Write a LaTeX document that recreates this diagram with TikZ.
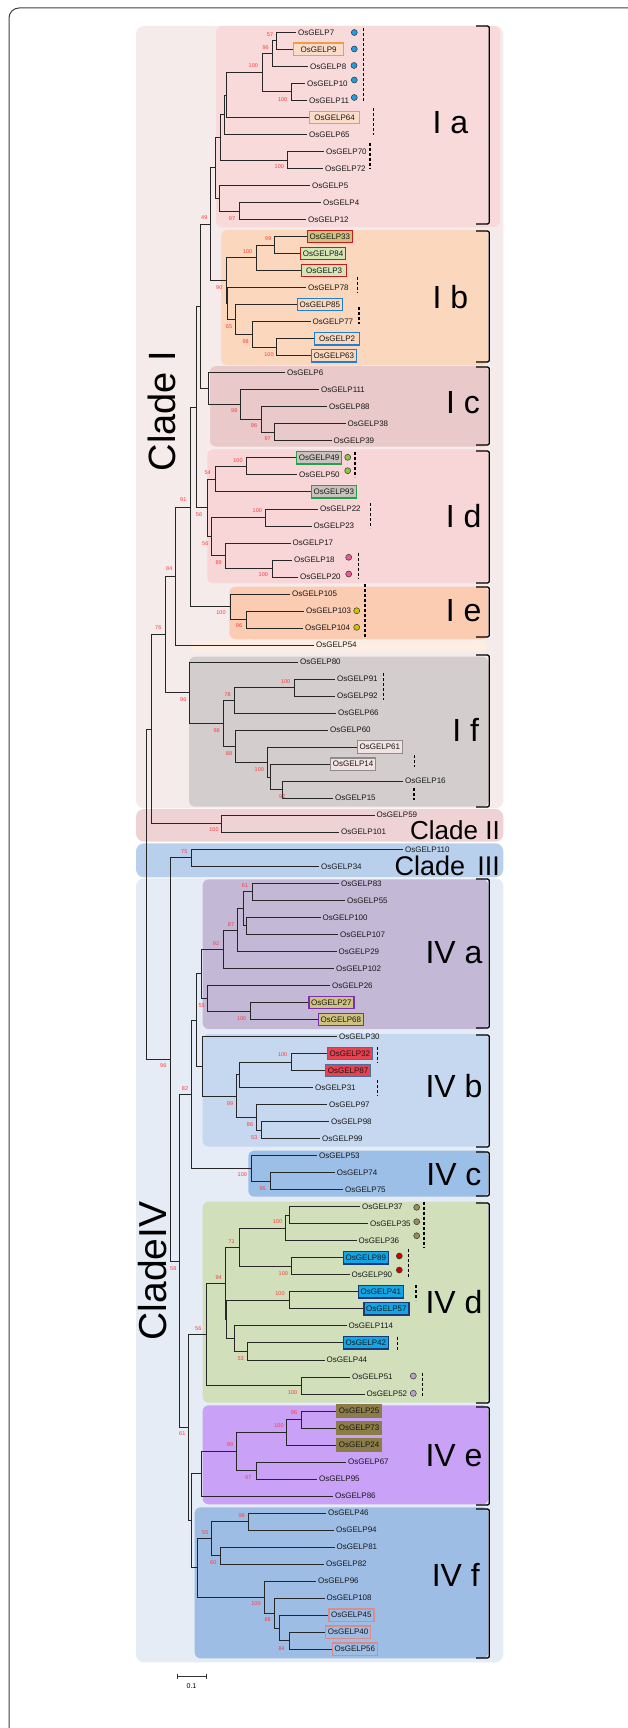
\documentclass[tikz,border=0pt]{standalone}
\usepackage{fontspec}
\setmainfont{Liberation Sans}
\definecolor{bgI}{HTML}{F6EBEB}
\definecolor{bgIa}{HTML}{F8DADB}
\definecolor{bgIb}{HTML}{FBD8BD}
\definecolor{bgIc}{HTML}{E9C9C9}
\definecolor{bgId}{HTML}{F8D5D7}
\definecolor{bgIe}{HTML}{FBCBB2}
\definecolor{bgS}{HTML}{FDEEE3}
\definecolor{bgIf}{HTML}{D3CDCD}
\definecolor{bgII}{HTML}{EFD2D3}
\definecolor{bgIII}{HTML}{B9D0EC}
\definecolor{bgIV}{HTML}{E5ECF5}
\definecolor{bgIVa}{HTML}{C3B9D7}
\definecolor{bgIVb}{HTML}{C5D8EF}
\definecolor{bgIVc}{HTML}{9CBFE7}
\definecolor{bgIVd}{HTML}{D1DFBB}
\definecolor{bgIVe}{HTML}{C9A1F7}
\definecolor{bgIVf}{HTML}{9DBDE5}
\definecolor{bootred}{HTML}{FF3B3B}
\definecolor{cOrange}{HTML}{F39A45}
\definecolor{cOrFill}{HTML}{FBDCC8}
\definecolor{cRed}{HTML}{C8191E}
\definecolor{cKhaki}{HTML}{CFC27E}
\definecolor{cLGreen}{HTML}{D5E6B5}
\definecolor{cBlue}{HTML}{1F7FD0}
\definecolor{cGreen}{HTML}{22A24A}
\definecolor{cGrayFill}{HTML}{C9C3BE}
\definecolor{cGrayBd}{HTML}{8C8C8C}
\definecolor{cPinkFill}{HTML}{F2E2E2}
\definecolor{cPurple}{HTML}{7A2FB0}
\definecolor{cRedFill}{HTML}{E8414F}
\definecolor{cSteel}{HTML}{4D6D9A}
\definecolor{cCyan}{HTML}{12A6E6}
\definecolor{cNavy}{HTML}{1C3A78}
\definecolor{cOlive}{HTML}{8C7D48}
\definecolor{cSalmon}{HTML}{D98C8C}
\definecolor{dBlue}{HTML}{1E9DE3}
\definecolor{dGreen}{HTML}{8DC63F}
\definecolor{dPink}{HTML}{EC5A96}
\definecolor{dYellow}{HTML}{C9C800}
\definecolor{dOlive}{HTML}{9C8B5A}
\definecolor{dRed}{HTML}{D10000}
\definecolor{dLav}{HTML}{B9A5CD}
\newcommand\kids[3]{\draw[branch] (#1) |- (#2) (#1) |- (#3);}
\tikzset{
 branch/.style={draw=black!85, line width=0.8pt},
 leaf/.style={anchor=west, inner xsep=2pt, inner ysep=1pt, font=\fontsize{8}{9}\selectfont, text=black!90},
 boxleaf/.style={leaf, line width=1.2pt, minimum height=12.5pt, minimum width=45pt},
 bor/.style={boxleaf, draw=cOrange, fill=cOrFill, minimum width=50pt},
 brk/.style={boxleaf, draw=cRed, fill=cKhaki},
 brg/.style={boxleaf, draw=cRed, fill=cLGreen},
 bbl/.style={boxleaf, draw=cBlue, fill=bgIb},
 bgr/.style={boxleaf, draw=cGreen, fill=cGrayFill},
 bgy/.style={boxleaf, draw=cGrayBd, fill=cPinkFill},
 bpu/.style={boxleaf, draw=cPurple, fill=cKhaki},
 brd/.style={boxleaf, draw=cSteel, fill=cRedFill},
 bcy/.style={boxleaf, draw=cNavy, fill=cCyan},
 bol/.style={boxleaf, draw=cOlive, fill=cOlive},
 bsa/.style={boxleaf, draw=cSalmon, fill=bgIVf},
 boot/.style={font=\fontsize{5.5}{6}\selectfont, text=bootred, inner sep=0pt},
 dot/.style={circle, draw=black!80, line width=0.5pt, minimum size=6pt, inner sep=0pt},
 dashln/.style={draw=black, line width=1.3pt, dash pattern=on 3pt off 2pt},
 cbrack/.style={draw=black, line width=1.3pt, rounded corners=2pt},
 clab/.style={font=\fontsize{32}{36}\selectfont, anchor=base east, inner sep=0pt},
 bgbox/.style={rounded corners=6pt, draw=none},
}
\begin{document}
\begin{tikzpicture}[x=1pt,y=-1pt]
\useasboundingbox (0,0) rectangle (627,1728);
% frame
\draw[black!75, line width=1pt, rounded corners=10pt] (9,1780) -- (9,8) -- (680,8);
% backgrounds
\fill[bgI, rounded corners=8pt] (136,26) rectangle (503.3,808.3);
\fill[bgII, rounded corners=8pt] (136,809) rectangle (503.3,841.7);
\fill[bgIII, rounded corners=8pt] (136,843.3) rectangle (503.3,877.3);
\fill[bgIV, rounded corners=8pt] (136,878.3) rectangle (503.3,1662.3);
\fill[bgIa, bgbox] (216,26) rectangle (500,227.3);
\fill[bgIb, bgbox] (221,230) rectangle (488.3,365);
\fill[bgIc, bgbox] (210,366) rectangle (488.3,446.7);
\fill[bgId, bgbox] (207.3,449.3) rectangle (488.3,583.3);
\fill[bgIe, bgbox] (229.3,586.7) rectangle (488.3,639);
\fill[bgS, rounded corners=3pt] (191,640.7) rectangle (486,651.7);
\fill[bgIf, bgbox] (189,656.7) rectangle (488.3,806.7);
\fill[bgIVa, bgbox] (202.7,879.3) rectangle (488.3,1029);
\fill[bgIVb, bgbox] (202.7,1034) rectangle (488.3,1146.7);
\fill[bgIVc, bgbox] (248.3,1150.7) rectangle (488.3,1196.7);
\fill[bgIVd, bgbox] (202.7,1201.7) rectangle (488.3,1402.7);
\fill[bgIVe, bgbox] (202.7,1405.3) rectangle (488.3,1504.3);
\fill[bgIVf, bgbox] (194.7,1507.3) rectangle (488.3,1658.3);
% brackets
\draw[cbrack] (476,26) -- (489.3,26) -- (489.3,224) -- (476,224);
\draw[cbrack] (476,231) -- (489.3,231) -- (489.3,362) -- (476,362);
\draw[cbrack] (476,367) -- (489.3,367) -- (489.3,445) -- (476,445);
\draw[cbrack] (476,451) -- (489.3,451) -- (489.3,583) -- (476,583);
\draw[cbrack] (476,587) -- (489.3,587) -- (489.3,637) -- (476,637);
\draw[cbrack] (476,655) -- (489.3,655) -- (489.3,807) -- (476,807);
\draw[cbrack] (476,879) -- (489.3,879) -- (489.3,1028) -- (476,1028);
\draw[cbrack] (476,1035) -- (489.3,1035) -- (489.3,1147) -- (476,1147);
\draw[cbrack] (476,1152) -- (489.3,1152) -- (489.3,1196) -- (476,1196);
\draw[cbrack] (476,1203) -- (489.3,1203) -- (489.3,1403) -- (476,1403);
\draw[cbrack] (476,1407) -- (489.3,1407) -- (489.3,1505) -- (476,1505);
\draw[cbrack] (476,1509) -- (489.3,1509) -- (489.3,1658) -- (476,1658);
% clade labels
\node[clab] (tIa) at (468.3,133.3) {I a};
\node[clab] (tIb) at (468.3,308.3) {I b};
\node[clab] (tIc) at (480,413.3) {I c};
\node[clab] (tId) at (481.7,527.3) {I d};
\node[clab] (tIe) at (481.7,621.7) {I e};
\node[clab] (tIf) at (479.3,741.7) {I f};
\node[clab] (tIVa) at (482.7,963.3) {IV a};
\node[clab] (tIVb) at (482.7,1097.7) {IV b};
\node[clab] (tIVc) at (481.7,1185) {IV c};
\node[clab] (tIVd) at (482.7,1313.3) {IV d};
\node[clab] (tIVe) at (482.7,1466.7) {IV e};
\node[clab] (tIVf) at (480,1586.7) {IV f};
\node[clab, font=\fontsize{26}{28}\selectfont] (tII) at (500,839) {Clade II};
\node[clab, font=\fontsize{27}{29}\selectfont] (tIII) at (500,875) {Clade\hspace{0.45em}III};
\node[font=\fontsize{38}{40}\selectfont, rotate=90, inner sep=0pt] (tI) at (162,411) {Clade I};
\node[font=\fontsize{39}{41}\selectfont, rotate=90, inner sep=0pt] (tIV) at (153,1271) {CladeIV};
% leaves
\node[leaf] (L7) at (296,32.3) {OsGELP7};
\node[bor] (L9) at (293,49.3) {OsGELP9};
\node[leaf] (L8) at (308,66.3) {OsGELP8};
\node[leaf] (L10) at (305,83.4) {OsGELP10};
\node[leaf] (L11) at (307,100.4) {OsGELP11};
\node[bor] (L64) at (309,117.4) {OsGELP64};
\node[leaf] (L65) at (307,134.4) {OsGELP65};
\node[leaf] (L70) at (324,151.4) {OsGELP70};
\node[leaf] (L72) at (323,168.5) {OsGELP72};
\node[leaf] (L5) at (310,185.5) {OsGELP5};
\node[leaf] (L4) at (321,202.5) {OsGELP4};
\node[leaf] (L12) at (306,219.5) {OsGELP12};
\node[brk] (L33) at (306.7,236.5) {OsGELP33};
\node[brg] (L84) at (300,253.6) {OsGELP84};
\node[brg] (L3) at (301,270.6) {OsGELP3};
\node[leaf] (L78) at (306,287.6) {OsGELP78};
\node[bbl] (L85) at (296.7,304.6) {OsGELP85};
\node[leaf] (L77) at (310.5,321.6) {OsGELP77};
\node[bbl] (L2) at (314,338.7) {OsGELP2};
\node[bbl] (L63) at (310.7,355.7) {OsGELP63};
\node[leaf] (L6) at (285,372.7) {OsGELP6};
\node[leaf] (L111) at (319,389.7) {OsGELP111};
\node[leaf] (L88) at (327,406.7) {OsGELP88};
\node[leaf] (L38) at (345.5,423.8) {OsGELP38};
\node[leaf] (L39) at (331.5,440.8) {OsGELP39};
\node[bgr] (L49) at (296,457.8) {OsGELP49};
\node[leaf] (L50) at (297,474.8) {OsGELP50};
\node[bgr] (L93) at (310.7,491.8) {OsGELP93};
\node[leaf] (L22) at (318,508.9) {OsGELP22};
\node[leaf] (L23) at (311.5,525.9) {OsGELP23};
\node[leaf] (L17) at (290.5,542.9) {OsGELP17};
\node[leaf] (L18) at (292,559.9) {OsGELP18};
\node[leaf] (L20) at (298,576.9) {OsGELP20};
\node[leaf] (L105) at (290,594) {OsGELP105};
\node[leaf] (L103) at (304,611) {OsGELP103};
\node[leaf] (L104) at (303,628) {OsGELP104};
\node[leaf] (L54) at (314,645) {OsGELP54};
\node[leaf] (L80) at (298,662) {OsGELP80};
\node[leaf] (L91) at (335,679.1) {OsGELP91};
\node[leaf] (L92) at (335,696.1) {OsGELP92};
\node[leaf] (L66) at (336,713.1) {OsGELP66};
\node[leaf] (L60) at (328,730.1) {OsGELP60};
\node[bgy] (L61) at (356.7,747.1) {OsGELP61};
\node[bgy] (L14) at (330,764.2) {OsGELP14};
\node[leaf] (L16) at (403,781.2) {OsGELP16};
\node[leaf] (L15) at (333,798.2) {OsGELP15};
\node[leaf] (L59) at (374.5,815.2) {OsGELP59};
\node[leaf] (L101) at (339,832.2) {OsGELP101};
\node[leaf] (L110) at (403,849.3) {OsGELP110};
\node[leaf] (L34) at (319,866.3) {OsGELP34};
\node[leaf] (L83) at (339,883.3) {OsGELP83};
\node[leaf] (L55) at (345,900.3) {OsGELP55};
\node[leaf] (L100) at (320.5,917.3) {OsGELP100};
\node[leaf] (L107) at (338,934.4) {OsGELP107};
\node[leaf] (L29) at (336.5,951.4) {OsGELP29};
\node[leaf] (L102) at (334,968.4) {OsGELP102};
\node[leaf] (L26) at (330,985.4) {OsGELP26};
\node[bpu] (L27) at (308.3,1002.4) {OsGELP27};
\node[bpu] (L68) at (317.7,1019.5) {OsGELP68};
\node[leaf] (L30) at (337,1036.5) {OsGELP30};
\node[brd] (L32) at (326.7,1053.5) {OsGELP32};
\node[brd] (L87) at (325,1070.5) {OsGELP87};
\node[leaf] (L31) at (313,1087.5) {OsGELP31};
\node[leaf] (L97) at (327,1104.6) {OsGELP97};
\node[leaf] (L98) at (329,1121.6) {OsGELP98};
\node[leaf] (L99) at (320,1138.6) {OsGELP99};
\node[leaf] (L53) at (317,1155.6) {OsGELP53};
\node[leaf] (L74) at (334.7,1172.6) {OsGELP74};
\node[leaf] (L75) at (343,1189.7) {OsGELP75};
\node[leaf] (L37) at (360,1206.7) {OsGELP37};
\node[leaf] (L35) at (368,1223.7) {OsGELP35};
\node[leaf] (L36) at (356.5,1240.7) {OsGELP36};
\node[bcy] (L89) at (342.7,1257.7) {OsGELP89};
\node[leaf] (L90) at (349.5,1274.8) {OsGELP90};
\node[bcy] (L41) at (357.7,1291.8) {OsGELP41};
\node[bcy] (L57) at (363.3,1308.8) {OsGELP57};
\node[leaf] (L114) at (346.5,1325.8) {OsGELP114};
\node[bcy] (L42) at (342.7,1342.8) {OsGELP42};
\node[leaf] (L44) at (324.5,1359.9) {OsGELP44};
\node[leaf] (L51) at (350,1376.9) {OsGELP51};
\node[leaf] (L52) at (364.5,1393.9) {OsGELP52};
\node[bol] (L25) at (336,1410.9) {OsGELP25};
\node[bol] (L73) at (336,1427.9) {OsGELP73};
\node[bol] (L24) at (336,1445) {OsGELP24};
\node[leaf] (L67) at (346,1462) {OsGELP67};
\node[leaf] (L95) at (317,1479) {OsGELP95};
\node[leaf] (L86) at (333,1496) {OsGELP86};
\node[leaf] (L46) at (326,1513) {OsGELP46};
\node[leaf] (L94) at (334,1530.1) {OsGELP94};
\node[leaf] (L81) at (334.5,1547.1) {OsGELP81};
\node[leaf] (L82) at (324,1564.1) {OsGELP82};
\node[leaf] (L96) at (316,1581.1) {OsGELP96};
\node[leaf] (L108) at (324.5,1598.1) {OsGELP108};
\node[bsa] (L45) at (328.3,1615.2) {OsGELP45};
\node[bsa] (L40) at (325,1632.2) {OsGELP40};
\node[bsa] (L56) at (331.7,1649.2) {OsGELP56};
% internal nodes
\coordinate (n79) at (276.7,40.8);
\coordinate (n798) at (272.7,53.55);
\coordinate (n1011) at (291.7,91.9);
\coordinate (nA) at (262.7,72.7);
\coordinate (nB) at (226.7,95.05);
\coordinate (nC) at (224,114.7);
\coordinate (n7072) at (287.7,160);
\coordinate (nD) at (220.7,137.3);
\coordinate (n412) at (239,211);
\coordinate (nE) at (219.3,198.3);
\coordinate (nIa) at (215,167.8);
\coordinate (n3384) at (274.3,245.05);
\coordinate (n33843) at (256,257.8);
\coordinate (n263) at (276.7,347.2);
\coordinate (n77) at (252.7,334.4);
\coordinate (n85) at (235,319.5);
\coordinate (n78) at (227.3,303.55);
\coordinate (nIb) at (226,280.7);
\coordinate (nIaIb) at (210.7,224.25);
\coordinate (n3839) at (274.3,432.3);
\coordinate (n88) at (261,419.5);
\coordinate (n111) at (240.7,404.6);
\coordinate (nIc) at (208.3,388.65);
\coordinate (nIabc) at (200,306.45);
\coordinate (n4950) at (246.7,466.3);
\coordinate (n93) at (215,479.05);
\coordinate (n2223) at (265.7,517.4);
\coordinate (n1820) at (272,568.4);
\coordinate (n17) at (225.3,555.65);
\coordinate (n2217) at (211.7,536.5);
\coordinate (nId) at (207.3,507.8);
\coordinate (nIad) at (196.7,407.1);
\coordinate (n103) at (246,619.5);
\coordinate (nIe) at (230,606.75);
\coordinate (nIae) at (190,506.9);
\coordinate (nI54) at (175.7,575.95);
\coordinate (n9192) at (294,687.6);
\coordinate (n66) at (234.3,700.35);
\coordinate (n1615) at (282.3,789.7);
\coordinate (n14) at (270.7,776.95);
\coordinate (n61) at (267.7,762);
\coordinate (n60) at (235.7,746.05);
\coordinate (n98) at (223.3,723.2);
\coordinate (nIf) at (189.3,692.6);
\coordinate (nI65) at (165,634.3);
\coordinate (nII) at (221.7,823.7);
\coordinate (nI) at (151.7,729);
\coordinate (nIII) at (191,857.8);
\coordinate (a1) at (252.7,891.8);
\coordinate (a2) at (246.7,925.85);
\coordinate (a3) at (243.3,908.8);
\coordinate (a4) at (237.3,930.1);
\coordinate (a5) at (223.3,949.25);
\coordinate (a7) at (250,1010.95);
\coordinate (a6) at (207.3,998.2);
\coordinate (nIVa) at (201.7,973.7);
\coordinate (n3287) at (291.7,1062);
\coordinate (b1) at (239.3,1074.75);
\coordinate (n9899) at (261.7,1130.1);
\coordinate (b2) at (256.7,1117.35);
\coordinate (b3) at (236.7,1096.05);
\coordinate (nIVb) at (202.7,1066.3);
\coordinate (nIVab) at (196,1020);
\coordinate (n7475) at (270,1181.15);
\coordinate (nIVc) at (251,1168.4);
\coordinate (nIVabc) at (191.7,1094.2);
\coordinate (n3735) at (289.3,1215.2);
\coordinate (d1) at (285.7,1227.95);
\coordinate (n8990) at (291.7,1266.25);
\coordinate (d2) at (239,1247.1);
\coordinate (n4157) at (289,1300.3);
\coordinate (n4244) at (247.7,1351.35);
\coordinate (d3) at (234,1338.6);
\coordinate (d4) at (226.7,1319.45);
\coordinate (d5) at (225.5,1283.3);
\coordinate (n5152) at (301,1385.4);
\coordinate (nIVd) at (206,1334.35);
\coordinate (n2573) at (301,1419.4);
\coordinate (e1) at (286.7,1432.2);
\coordinate (n6795) at (256,1470.5);
\coordinate (e2) at (236.7,1451.35);
\coordinate (nIVe) at (201,1473.7);
\coordinate (n4694) at (248.3,1521.55);
\coordinate (n8182) at (220,1555.6);
\coordinate (f1) at (211.7,1538.6);
\coordinate (n4056) at (289,1640.7);
\coordinate (f2) at (279.3,1627.95);
\coordinate (f3) at (274,1613.05);
\coordinate (f4) at (264.3,1597.1);
\coordinate (nIVf) at (197.3,1567.85);
\coordinate (nIVef) at (191,1520.8);
\coordinate (nIVdef) at (188.3,1427.6);
\coordinate (nIV) at (179.3,1260.9);
\coordinate (nIIIIV) at (170,1059.35);
\coordinate (root) at (146.7,894.2);
% branches
\kids{n79}{L7.west}{L9.west}
\kids{n798}{n79}{L8.west}
\kids{n1011}{L10.west}{L11.west}
\kids{nA}{n798}{n1011}
\kids{nB}{nA}{L64.west}
\kids{nC}{nB}{L65.west}
\kids{n7072}{L70.west}{L72.west}
\kids{nD}{nC}{n7072}
\kids{n412}{L4.west}{L12.west}
\kids{nE}{L5.west}{n412}
\kids{nIa}{nD}{nE}
\kids{n3384}{L33.west}{L84.west}
\kids{n33843}{n3384}{L3.west}
\kids{n263}{L2.west}{L63.west}
\kids{n77}{L77.west}{n263}
\kids{n85}{L85.west}{n77}
\kids{n78}{L78.west}{n85}
\kids{nIb}{n33843}{n78}
\kids{nIaIb}{nIa}{nIb}
\kids{n3839}{L38.west}{L39.west}
\kids{n88}{L88.west}{n3839}
\kids{n111}{L111.west}{n88}
\kids{nIc}{L6.west}{n111}
\kids{nIabc}{nIaIb}{nIc}
\kids{n4950}{L49.west}{L50.west}
\kids{n93}{n4950}{L93.west}
\kids{n2223}{L22.west}{L23.west}
\kids{n1820}{L18.west}{L20.west}
\kids{n17}{L17.west}{n1820}
\kids{n2217}{n2223}{n17}
\kids{nId}{n93}{n2217}
\kids{nIad}{nIabc}{nId}
\kids{n103}{L103.west}{L104.west}
\kids{nIe}{L105.west}{n103}
\kids{nIae}{nIad}{nIe}
\kids{nI54}{nIae}{L54.west}
\kids{n9192}{L91.west}{L92.west}
\kids{n66}{n9192}{L66.west}
\kids{n1615}{L16.west}{L15.west}
\kids{n14}{L14.west}{n1615}
\kids{n61}{L61.west}{n14}
\kids{n60}{L60.west}{n61}
\kids{n98}{n66}{n60}
\kids{nIf}{L80.west}{n98}
\kids{nI65}{nI54}{nIf}
\kids{nII}{L59.west}{L101.west}
\kids{nI}{nI65}{nII}
\kids{nIII}{L110.west}{L34.west}
\kids{a1}{L83.west}{L55.west}
\kids{a2}{L100.west}{L107.west}
\kids{a3}{a1}{a2}
\kids{a4}{a3}{L29.west}
\kids{a5}{a4}{L102.west}
\kids{a7}{L27.west}{L68.west}
\kids{a6}{L26.west}{a7}
\kids{nIVa}{a5}{a6}
\kids{n3287}{L32.west}{L87.west}
\kids{b1}{n3287}{L31.west}
\kids{n9899}{L98.west}{L99.west}
\kids{b2}{L97.west}{n9899}
\kids{b3}{b1}{b2}
\kids{nIVb}{L30.west}{b3}
\kids{nIVab}{nIVa}{nIVb}
\kids{n7475}{L74.west}{L75.west}
\kids{nIVc}{L53.west}{n7475}
\kids{nIVabc}{nIVab}{nIVc}
\kids{n3735}{L37.west}{L35.west}
\kids{d1}{n3735}{L36.west}
\kids{n8990}{L89.west}{L90.west}
\kids{d2}{d1}{n8990}
\kids{n4157}{L41.west}{L57.west}
\kids{n4244}{L42.west}{L44.west}
\kids{d3}{L114.west}{n4244}
\kids{d4}{n4157}{d3}
\kids{d5}{d2}{d4}
\kids{n5152}{L51.west}{L52.west}
\kids{nIVd}{d5}{n5152}
\kids{n2573}{L25.west}{L73.west}
\kids{e1}{n2573}{L24.west}
\kids{n6795}{L67.west}{L95.west}
\kids{e2}{e1}{n6795}
\kids{nIVe}{e2}{L86.west}
\kids{n4694}{L46.west}{L94.west}
\kids{n8182}{L81.west}{L82.west}
\kids{f1}{n4694}{n8182}
\kids{n4056}{L40.west}{L56.west}
\kids{f2}{L45.west}{n4056}
\kids{f3}{L108.west}{f2}
\kids{f4}{L96.west}{f3}
\kids{nIVf}{f1}{f4}
\kids{nIVef}{nIVe}{nIVf}
\kids{nIVdef}{nIVd}{nIVef}
\kids{nIV}{nIVabc}{nIVdef}
\kids{nIIIIV}{nIII}{nIV}
\kids{root}{nI}{nIIIIV}
% bootstrap values
\node[boot] (s1) at (270,34.3) {57};
\node[boot] (s2) at (265.7,47.3) {96};
\node[boot] (s3) at (253.3,66) {100};
\node[boot] (s4) at (282.7,99.3) {100};
\node[boot] (s5) at (279.3,166.7) {100};
\node[boot] (s6) at (232,219) {97};
\node[boot] (s7) at (204.3,217.3) {49};
\node[boot] (s8) at (268.3,238.3) {99};
\node[boot] (s9) at (247.7,251.7) {100};
\node[boot] (s10) at (219.3,287.3) {90};
\node[boot] (s11) at (229,326.7) {65};
\node[boot] (s12) at (245.7,341.7) {98};
\node[boot] (s13) at (269,354.3) {100};
\node[boot] (s14) at (234.3,411) {98};
\node[boot] (s15) at (254,426) {96};
\node[boot] (s16) at (267.7,439) {97};
\node[boot] (s17) at (238,460.3) {100};
\node[boot] (s18) at (207.7,472.3) {54};
\node[boot] (s19) at (199,514.3) {56};
\node[boot] (s20) at (257.3,511) {100};
\node[boot] (s21) at (205.3,543.3) {56};
\node[boot] (s22) at (218.7,562.7) {89};
\node[boot] (s23) at (263.3,575) {100};
\node[boot] (s24) at (183.3,500) {91};
\node[boot] (s25) at (221,612.7) {100};
\node[boot] (s26) at (239,625.7) {96};
\node[boot] (s27) at (169.3,569) {84};
\node[boot] (s28) at (158.3,627.3) {76};
\node[boot] (s29) at (183.3,699.3) {96};
\node[boot] (s30) at (285.7,681.7) {100};
\node[boot] (s31) at (227.7,694.7) {78};
\node[boot] (s32) at (216.7,730.7) {98};
\node[boot] (s33) at (229,753.3) {88};
\node[boot] (s34) at (259.3,769.3) {100};
\node[boot] (s35) at (282.3,796.7) {92};
\node[boot] (s36) at (214,830) {100};
\node[boot] (s37) at (184.3,851.7) {75};
\node[boot] (s38) at (245,885.3) {61};
\node[boot] (s39) at (231,924.3) {87};
\node[boot] (s40) at (216,943.3) {92};
\node[boot] (s41) at (201.7,1005.7) {55};
\node[boot] (s42) at (241.7,1018.3) {100};
\node[boot] (s43) at (282.7,1055) {100};
\node[boot] (s44) at (230,1103.3) {99};
\node[boot] (s45) at (250,1124.3) {86};
\node[boot] (s46) at (254.3,1137.3) {53};
\node[boot] (s47) at (163.3,1066) {96};
\node[boot] (s48) at (185,1088.3) {82};
\node[boot] (s49) at (242.3,1175) {100};
\node[boot] (s50) at (262.7,1188.3) {95};
\node[boot] (s51) at (277.5,1221.3) {100};
\node[boot] (s52) at (231.7,1241.7) {71};
\node[boot] (s53) at (283.3,1273.3) {100};
\node[boot] (s54) at (218.7,1277.3) {94};
\node[boot] (s55) at (280,1294) {100};
\node[boot] (s56) at (198.3,1328.3) {56};
\node[boot] (s57) at (240.7,1358.3) {53};
\node[boot] (s58) at (292.7,1392.3) {100};
\node[boot] (s59) at (173.3,1268.3) {58};
\node[boot] (s60) at (294,1412.7) {96};
\node[boot] (s61) at (279,1426) {100};
\node[boot] (s62) at (230,1445) {99};
\node[boot] (s63) at (248.3,1477.3) {97};
\node[boot] (s64) at (182.3,1434) {61};
\node[boot] (s65) at (241.7,1515.3) {98};
\node[boot] (s66) at (205.3,1532.3) {55};
\node[boot] (s67) at (213.3,1562.7) {60};
\node[boot] (s68) at (256,1603.3) {100};
\node[boot] (s69) at (267.7,1620) {88};
\node[boot] (s70) at (281.7,1648.3) {84};
% dots
\node[dot, fill=dBlue] (c1) at (354.3,32.5) {};
\node[dot, fill=dBlue] (c2) at (354.3,49) {};
\node[dot, fill=dBlue] (c3) at (354,65.5) {};
\node[dot, fill=dBlue] (c4) at (354.3,80) {};
\node[dot, fill=dBlue] (c5) at (354.3,97.5) {};
\node[dot, fill=dGreen] (c6) at (347.7,457.3) {};
\node[dot, fill=dGreen] (c7) at (347.7,470.7) {};
\node[dot, fill=dPink] (c8) at (348.7,557.3) {};
\node[dot, fill=dPink] (c9) at (348.7,574) {};
\node[dot, fill=dYellow] (c10) at (356.7,610.7) {};
\node[dot, fill=dYellow] (c11) at (356.7,627.3) {};
\node[dot, fill=dOlive] (c12) at (416.7,1207.3) {};
\node[dot, fill=dOlive] (c13) at (416.7,1221.7) {};
\node[dot, fill=dOlive] (c14) at (416.7,1235.7) {};
\node[dot, fill=dRed] (c15) at (399.3,1256) {};
\node[dot, fill=dRed] (c16) at (399.3,1270) {};
\node[dot, fill=dLav] (c17) at (413.3,1376) {};
\node[dot, fill=dLav] (c18) at (413.3,1393.3) {};
% dashed marks
\draw[dashln] (363.3,28.3) -- (363.3,101);
\draw[dashln] (373.3,108.3) -- (373.3,135);
\draw[dashln] (370,142.7) -- (370,169.3);
\draw[dashln] (357.7,276.7) -- (357.7,293.3);
\draw[dashln] (359,307.3) -- (359,324);
\draw[dashln] (355,451.7) -- (355,476.7);
\draw[dashln] (370.7,503.3) -- (370.7,528.3);
\draw[dashln] (358.7,552.7) -- (358.7,578.3);
\draw[dashln] (365,584) -- (365,638.3);
\draw[dashln] (383.3,673.3) -- (383.3,700);
\draw[dashln] (414.3,755) -- (414.3,766.7);
\draw[dashln] (414,788.3) -- (414,800);
\draw[dashln] (377.3,1046.7) -- (377.3,1063.3);
\draw[dashln] (377.3,1080) -- (377.3,1096);
\draw[dashln] (424,1201.7) -- (424,1247.3);
\draw[dashln] (408.7,1249.3) -- (408.7,1277.3);
\draw[dashln] (416,1285) -- (416,1300);
\draw[dashln] (397.3,1336.7) -- (397.3,1350.7);
\draw[dashln] (422.3,1372.7) -- (422.3,1396.7);
% scale bar
\coordinate (sb1) at (177.3,1676);
\coordinate (sb2) at (206,1676);
\draw[black!80, line width=0.8pt] (sb1) -- (sb2);
\draw[black!80, line width=0.8pt] ([yshift=-2.5pt]sb1) -- ([yshift=2.5pt]sb1);
\draw[black!80, line width=0.8pt] ([yshift=-2.5pt]sb2) -- ([yshift=2.5pt]sb2);
\node[font=\fontsize{7}{8}\selectfont, inner sep=0pt] (sbt) at (191.5,1686) {0.1};
\end{tikzpicture}
\end{document}
